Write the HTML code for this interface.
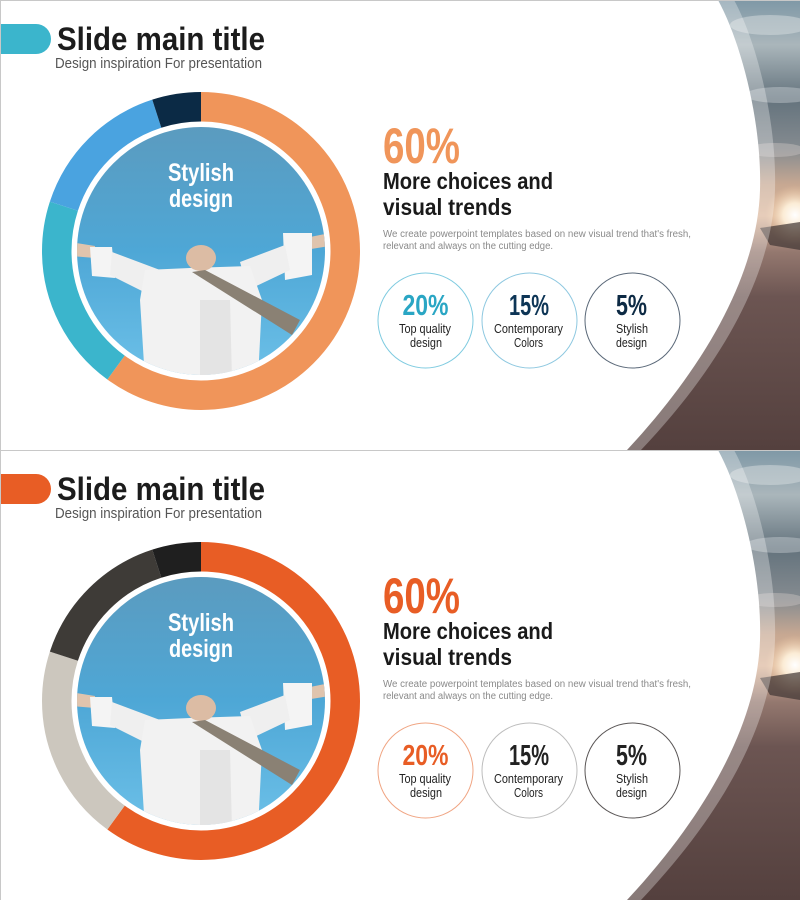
<!DOCTYPE html>
<html><head><meta charset="utf-8"><style>
html,body{margin:0;padding:0;background:#fff;}
svg{display:block;}
text{font-family:"Liberation Sans",sans-serif;}
</style></head><body>
<svg width="800" height="900" viewBox="0 0 800 900" xmlns="http://www.w3.org/2000/svg">
<defs>
  <linearGradient id="ph" x1="0" y1="0" x2="0" y2="450" gradientUnits="userSpaceOnUse">
    <stop offset="0" stop-color="#7f98a6"/>
    <stop offset="0.1" stop-color="#aab6bb"/>
    <stop offset="0.22" stop-color="#64737d"/>
    <stop offset="0.33" stop-color="#858b90"/>
    <stop offset="0.41" stop-color="#c7a892"/>
    <stop offset="0.48" stop-color="#dcb79c"/>
    <stop offset="0.56" stop-color="#94786f"/>
    <stop offset="0.66" stop-color="#6c5552"/>
    <stop offset="1" stop-color="#54403e"/>
  </linearGradient>
  <radialGradient id="sun" cx="795" cy="215" r="30" gradientUnits="userSpaceOnUse">
    <stop offset="0" stop-color="#ffffff"/>
    <stop offset="0.4" stop-color="#fff2dc" stop-opacity="0.9"/>
    <stop offset="1" stop-color="#f0c8a0" stop-opacity="0"/>
  </radialGradient>
  <linearGradient id="sky" x1="0" y1="127" x2="0" y2="375" gradientUnits="userSpaceOnUse">
    <stop offset="0" stop-color="#5b9bbf"/>
    <stop offset="0.5" stop-color="#4ea7d6"/>
    <stop offset="1" stop-color="#6cc0e8"/>
  </linearGradient>
  <clipPath id="pc"><circle cx="201" cy="251" r="124"/></clipPath>
</defs>

<!-- ============ SLIDE 1 ============ -->
<g>
  <rect x="0" y="0" width="800" height="450" fill="#fff"/>
  <rect x="600" y="0" width="200" height="450" fill="url(#ph)"/>
  <ellipse cx="770" cy="25" rx="40" ry="10" fill="#d8dde0" opacity="0.5"/>
  <ellipse cx="780" cy="95" rx="35" ry="8" fill="#c8ced2" opacity="0.45"/>
  <ellipse cx="775" cy="150" rx="30" ry="7" fill="#c9c4c0" opacity="0.45"/>
  <circle cx="795" cy="215" r="30" fill="url(#sun)"/>
  <path d="M760,228 L800,222 L800,250 L770,245 Z" fill="#3e3433" opacity="0.7"/>
  <path d="M0,0 H734 C756,40 777,120 775,190 C773,262 734,352 641,450 H0 Z" fill="#ffffff" opacity="0.3"/>
  <path d="M0,0 H718 C740,40 762,120 760,190 C758,260 720,350 627,450 H0 Z" fill="#ffffff"/>

  <path d="M0,24 H36 A15,15 0 0 1 36,54 H0 Z" fill="#3bb5cc"/>
  <text x="57" y="50" font-size="32" font-weight="bold" fill="#1c1c1c" textLength="208" lengthAdjust="spacingAndGlyphs">Slide main title</text>
  <text x="55" y="68" font-size="15" fill="#555" textLength="207" lengthAdjust="spacingAndGlyphs">Design inspiration For presentation</text>

  <g transform="rotate(-90 201 251)" fill="none" stroke-width="29.5">
    <circle cx="201" cy="251" r="144.25" stroke="#f0955a" stroke-dasharray="543.81 906.35" stroke-dashoffset="0"/>
    <circle cx="201" cy="251" r="144.25" stroke="#3bb5cc" stroke-dasharray="181.27 906.35" stroke-dashoffset="-543.81"/>
    <circle cx="201" cy="251" r="144.25" stroke="#4aa3e0" stroke-dasharray="135.95 906.35" stroke-dashoffset="-725.08"/>
    <circle cx="201" cy="251" r="144.25" stroke="#0b2a45" stroke-dasharray="45.32 906.35" stroke-dashoffset="-861.03"/>
  </g>
  <g clip-path="url(#pc)">
    <rect x="70" y="120" width="270" height="270" fill="url(#sky)"/>
    <path d="M70,242 L95,246 L95,258 L70,256 Z" fill="#e0c4ad"/>
    <path d="M330,233 L305,238 L305,250 L330,246 Z" fill="#e0c4ad"/>
    <path d="M90,247 L112,247 L115,278 L92,276 Z" fill="#f4f4f4"/>
    <path d="M112,252 L160,270 L150,295 L110,275 Z" fill="#efefef"/>
    <path d="M283,233 L312,233 L312,275 L285,280 Z" fill="#f4f4f4"/>
    <path d="M285,245 L240,262 L248,290 L290,270 Z" fill="#efefef"/>
    <path d="M145,270 L190,268 L250,266 L262,300 L258,380 L145,380 L140,300 Z" fill="#f2f2f2"/>
    <path d="M200,300 L230,300 L232,380 L200,380 Z" fill="#e4e4e4"/>
    <ellipse cx="201" cy="258" rx="15" ry="13" fill="#dcbca4"/>
    <path d="M192,272 L205,270 L300,320 L292,335 Z" fill="#8a8174"/>
  </g>
  <text x="201" y="181" font-size="25" font-weight="bold" fill="#fff" text-anchor="middle" textLength="66" lengthAdjust="spacingAndGlyphs">Stylish</text>
  <text x="201" y="207" font-size="25" font-weight="bold" fill="#fff" text-anchor="middle" textLength="64" lengthAdjust="spacingAndGlyphs">design</text>

  <text x="383" y="163" font-size="50" font-weight="bold" fill="#f0955a" textLength="77" lengthAdjust="spacingAndGlyphs">60%</text>
  <text x="383" y="189" font-size="23" font-weight="bold" fill="#1a1a1a" textLength="170" lengthAdjust="spacingAndGlyphs">More choices and</text>
  <text x="383" y="215" font-size="23" font-weight="bold" fill="#1a1a1a" textLength="129" lengthAdjust="spacingAndGlyphs">visual trends</text>
  <text x="383" y="237" font-size="10" fill="#8a8a8a" textLength="308" lengthAdjust="spacingAndGlyphs">We create powerpoint templates based on new visual trend that's fresh,</text>
  <text x="383" y="249" font-size="10" fill="#8a8a8a" textLength="170" lengthAdjust="spacingAndGlyphs">relevant and always on the cutting edge.</text>

  <circle cx="425.5" cy="320.5" r="47.5" fill="none" stroke="#7fcbe0" stroke-width="1"/>
  <circle cx="529.5" cy="320.5" r="47.5" fill="none" stroke="#8ec8e0" stroke-width="1"/>
  <circle cx="632.5" cy="320.5" r="47.5" fill="none" stroke="#5a6878" stroke-width="1"/>
  <text x="425.5" y="315" font-size="29" font-weight="bold" fill="#2aa6c4" text-anchor="middle" textLength="46" lengthAdjust="spacingAndGlyphs">20%</text>
  <text x="529" y="315" font-size="29" font-weight="bold" fill="#0d3556" text-anchor="middle" textLength="40" lengthAdjust="spacingAndGlyphs">15%</text>
  <text x="631.5" y="315" font-size="29" font-weight="bold" fill="#0d2a44" text-anchor="middle" textLength="31" lengthAdjust="spacingAndGlyphs">5%</text>
  <text x="425" y="333" font-size="13" fill="#222" text-anchor="middle" textLength="52" lengthAdjust="spacingAndGlyphs">Top quality</text>
  <text x="426" y="347" font-size="13" fill="#222" text-anchor="middle" textLength="32" lengthAdjust="spacingAndGlyphs">design</text>
  <text x="528.5" y="333" font-size="13" fill="#222" text-anchor="middle" textLength="69" lengthAdjust="spacingAndGlyphs">Contemporary</text>
  <text x="528.5" y="347" font-size="13" fill="#222" text-anchor="middle" textLength="29" lengthAdjust="spacingAndGlyphs">Colors</text>
  <text x="632" y="333" font-size="13" fill="#222" text-anchor="middle" textLength="32" lengthAdjust="spacingAndGlyphs">Stylish</text>
  <text x="631.5" y="347" font-size="13" fill="#222" text-anchor="middle" textLength="31" lengthAdjust="spacingAndGlyphs">design</text>

  <path d="M0.5,450 V0.5 H800" fill="none" stroke="#c8c8c8" stroke-width="1"/>
</g>

<!-- ============ SLIDE 2 ============ -->
<g transform="translate(0,450)">
  <rect x="0" y="0" width="800" height="450" fill="#fff"/>
  <rect x="600" y="0" width="200" height="450" fill="url(#ph)"/>
  <ellipse cx="770" cy="25" rx="40" ry="10" fill="#d8dde0" opacity="0.5"/>
  <ellipse cx="780" cy="95" rx="35" ry="8" fill="#c8ced2" opacity="0.45"/>
  <ellipse cx="775" cy="150" rx="30" ry="7" fill="#c9c4c0" opacity="0.45"/>
  <circle cx="795" cy="215" r="30" fill="url(#sun)"/>
  <path d="M760,228 L800,222 L800,250 L770,245 Z" fill="#3e3433" opacity="0.7"/>
  <path d="M0,0 H734 C756,40 777,120 775,190 C773,262 734,352 641,450 H0 Z" fill="#ffffff" opacity="0.3"/>
  <path d="M0,0 H718 C740,40 762,120 760,190 C758,260 720,350 627,450 H0 Z" fill="#ffffff"/>

  <path d="M0,24 H36 A15,15 0 0 1 36,54 H0 Z" fill="#e85d25"/>
  <text x="57" y="50" font-size="32" font-weight="bold" fill="#1c1c1c" textLength="208" lengthAdjust="spacingAndGlyphs">Slide main title</text>
  <text x="55" y="68" font-size="15" fill="#555" textLength="207" lengthAdjust="spacingAndGlyphs">Design inspiration For presentation</text>

  <g transform="rotate(-90 201 251)" fill="none" stroke-width="29.5">
    <circle cx="201" cy="251" r="144.25" stroke="#e85d25" stroke-dasharray="543.81 906.35" stroke-dashoffset="0"/>
    <circle cx="201" cy="251" r="144.25" stroke="#ccc7be" stroke-dasharray="181.27 906.35" stroke-dashoffset="-543.81"/>
    <circle cx="201" cy="251" r="144.25" stroke="#3e3b37" stroke-dasharray="135.95 906.35" stroke-dashoffset="-725.08"/>
    <circle cx="201" cy="251" r="144.25" stroke="#1f1f1f" stroke-dasharray="45.32 906.35" stroke-dashoffset="-861.03"/>
  </g>
  <g clip-path="url(#pc)">
    <rect x="70" y="120" width="270" height="270" fill="url(#sky)"/>
    <path d="M70,242 L95,246 L95,258 L70,256 Z" fill="#e0c4ad"/>
    <path d="M330,233 L305,238 L305,250 L330,246 Z" fill="#e0c4ad"/>
    <path d="M90,247 L112,247 L115,278 L92,276 Z" fill="#f4f4f4"/>
    <path d="M112,252 L160,270 L150,295 L110,275 Z" fill="#efefef"/>
    <path d="M283,233 L312,233 L312,275 L285,280 Z" fill="#f4f4f4"/>
    <path d="M285,245 L240,262 L248,290 L290,270 Z" fill="#efefef"/>
    <path d="M145,270 L190,268 L250,266 L262,300 L258,380 L145,380 L140,300 Z" fill="#f2f2f2"/>
    <path d="M200,300 L230,300 L232,380 L200,380 Z" fill="#e4e4e4"/>
    <ellipse cx="201" cy="258" rx="15" ry="13" fill="#dcbca4"/>
    <path d="M192,272 L205,270 L300,320 L292,335 Z" fill="#8a8174"/>
  </g>
  <text x="201" y="181" font-size="25" font-weight="bold" fill="#fff" text-anchor="middle" textLength="66" lengthAdjust="spacingAndGlyphs">Stylish</text>
  <text x="201" y="207" font-size="25" font-weight="bold" fill="#fff" text-anchor="middle" textLength="64" lengthAdjust="spacingAndGlyphs">design</text>

  <text x="383" y="163" font-size="50" font-weight="bold" fill="#e85d25" textLength="77" lengthAdjust="spacingAndGlyphs">60%</text>
  <text x="383" y="189" font-size="23" font-weight="bold" fill="#1a1a1a" textLength="170" lengthAdjust="spacingAndGlyphs">More choices and</text>
  <text x="383" y="215" font-size="23" font-weight="bold" fill="#1a1a1a" textLength="129" lengthAdjust="spacingAndGlyphs">visual trends</text>
  <text x="383" y="237" font-size="10" fill="#8a8a8a" textLength="308" lengthAdjust="spacingAndGlyphs">We create powerpoint templates based on new visual trend that's fresh,</text>
  <text x="383" y="249" font-size="10" fill="#8a8a8a" textLength="170" lengthAdjust="spacingAndGlyphs">relevant and always on the cutting edge.</text>

  <circle cx="425.5" cy="320.5" r="47.5" fill="none" stroke="#f0a583" stroke-width="1"/>
  <circle cx="529.5" cy="320.5" r="47.5" fill="none" stroke="#bdbdbd" stroke-width="1"/>
  <circle cx="632.5" cy="320.5" r="47.5" fill="none" stroke="#5a5656" stroke-width="1"/>
  <text x="425.5" y="315" font-size="29" font-weight="bold" fill="#e85d25" text-anchor="middle" textLength="46" lengthAdjust="spacingAndGlyphs">20%</text>
  <text x="529" y="315" font-size="29" font-weight="bold" fill="#222" text-anchor="middle" textLength="40" lengthAdjust="spacingAndGlyphs">15%</text>
  <text x="631.5" y="315" font-size="29" font-weight="bold" fill="#222" text-anchor="middle" textLength="31" lengthAdjust="spacingAndGlyphs">5%</text>
  <text x="425" y="333" font-size="13" fill="#222" text-anchor="middle" textLength="52" lengthAdjust="spacingAndGlyphs">Top quality</text>
  <text x="426" y="347" font-size="13" fill="#222" text-anchor="middle" textLength="32" lengthAdjust="spacingAndGlyphs">design</text>
  <text x="528.5" y="333" font-size="13" fill="#222" text-anchor="middle" textLength="69" lengthAdjust="spacingAndGlyphs">Contemporary</text>
  <text x="528.5" y="347" font-size="13" fill="#222" text-anchor="middle" textLength="29" lengthAdjust="spacingAndGlyphs">Colors</text>
  <text x="632" y="333" font-size="13" fill="#222" text-anchor="middle" textLength="32" lengthAdjust="spacingAndGlyphs">Stylish</text>
  <text x="631.5" y="347" font-size="13" fill="#222" text-anchor="middle" textLength="31" lengthAdjust="spacingAndGlyphs">design</text>

  <path d="M0.5,450 V0.5 H800" fill="none" stroke="#c8c8c8" stroke-width="1"/>
</g>
</svg>
</body></html>
